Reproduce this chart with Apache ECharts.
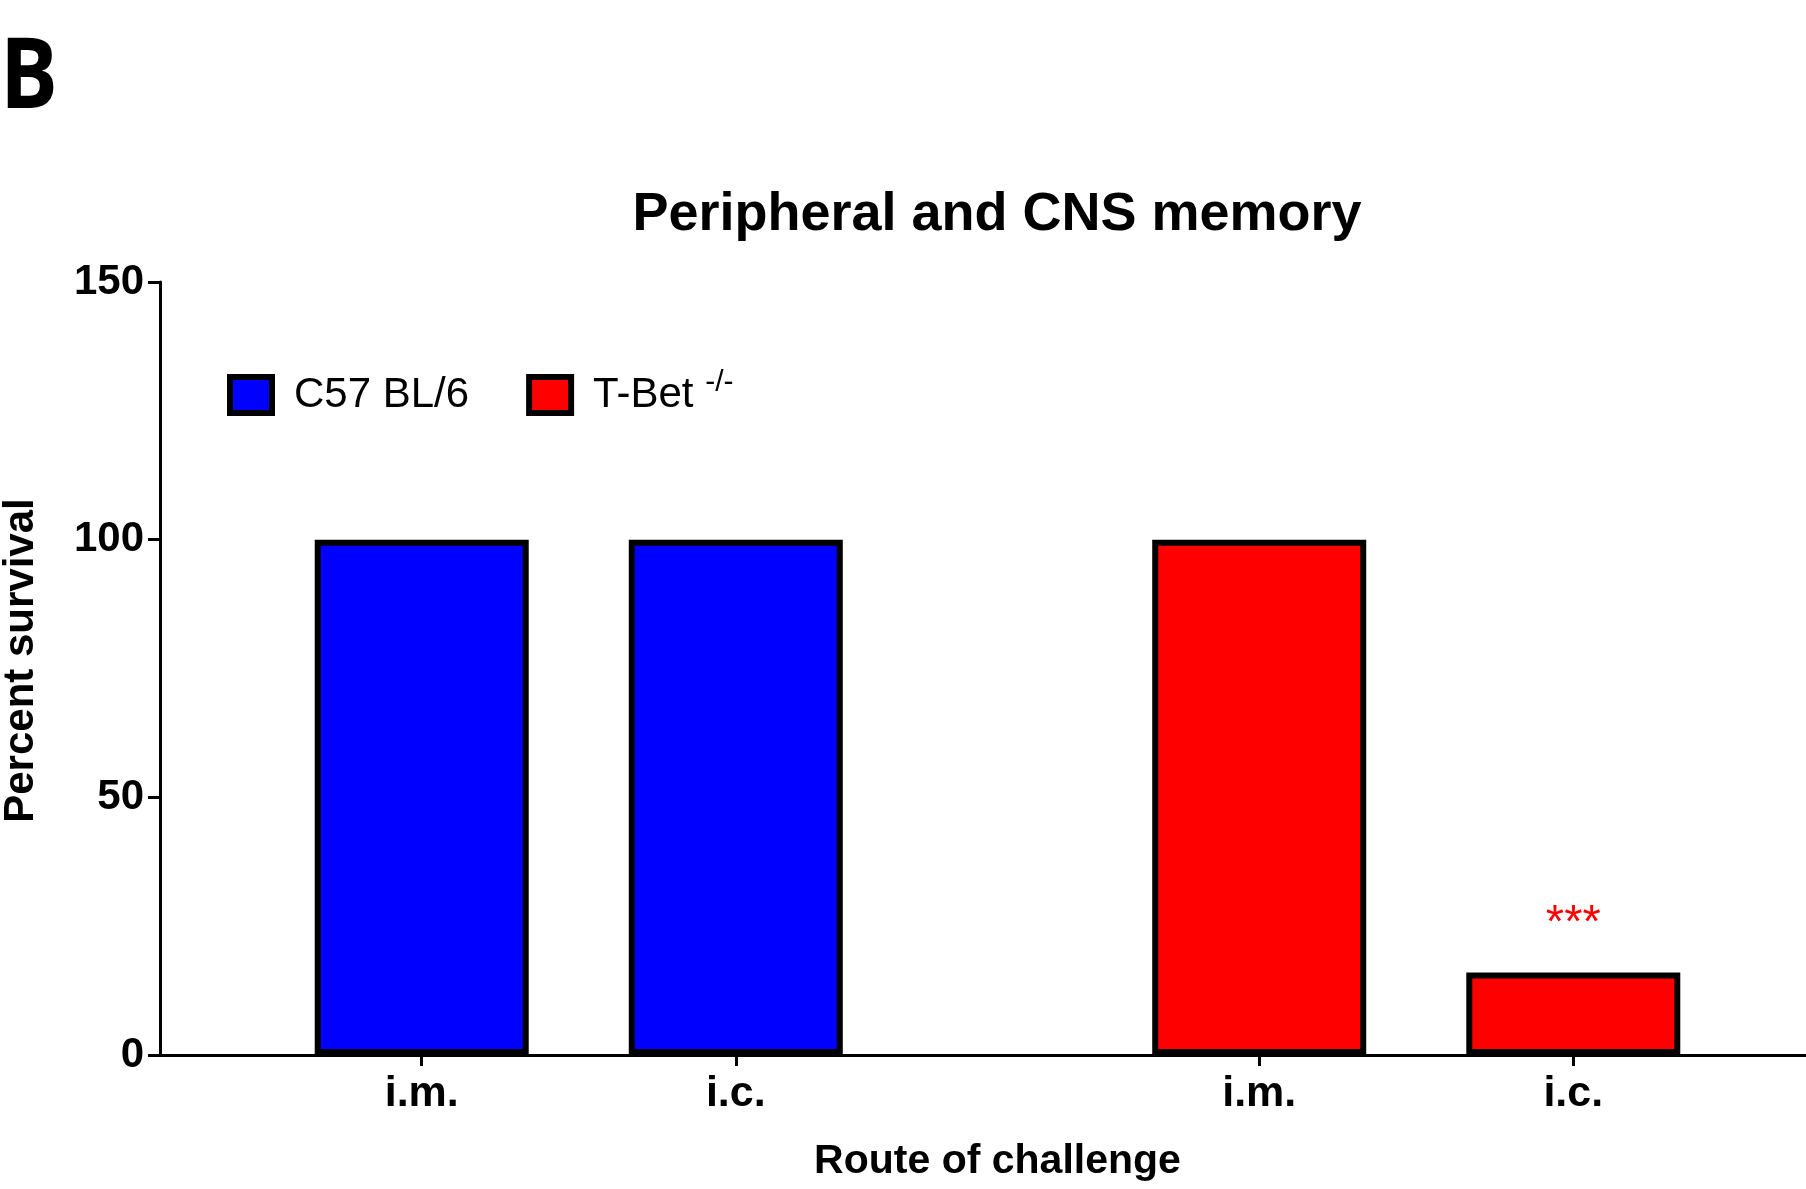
<!DOCTYPE html>
<html>
<head>
<meta charset="utf-8">
<script src="https://cdn.jsdelivr.net/npm/echarts@6/dist/echarts.min.js"></script>
<style>
html,body{margin:0;padding:0;background:#fff;}
#chart{width:1806px;height:1189px;}
</style>
</head>
<body>
<div id="chart"></div>
<script>
// ---- data ----
const routes = ['i.m.', 'i.c.'];
const strains = ['C57 BL/6', 'T-Bet'];
const c57Values = [100, 100];
const tbetValues = [100, 16];
const yTicks = [0, 50, 100, 150];
const significance = ['', '***'];

// ---- layout helpers (slots on a category axis) ----
const slotCount = 16;
const c57Slots = [2, 5];
const tbetSlots = [10, 13];

const categories = new Array(slotCount).fill('');
c57Slots.forEach((s, i) => categories[s] = routes[i]);
tbetSlots.forEach((s, i) => categories[s] = routes[i]);

const c57Data = new Array(slotCount).fill(null);
c57Slots.forEach((s, i) => c57Data[s] = c57Values[i]);
const tbetData = new Array(slotCount).fill(null);
tbetSlots.forEach((s, i) => {
  const item = { value: tbetValues[i] };
  if (significance[i]) {
    item.label = {
      show: true, position: 'top', distance: 25, formatter: significance[i],
      color: '#ff0000', fontSize: 47, fontFamily: 'Liberation Sans'
    };
  }
  tbetData[s] = item;
});

const FONT = 'Liberation Sans';
const chart = echarts.init(document.getElementById('chart'), null, { renderer: 'canvas' });
chart.setOption({
  backgroundColor: '#ffffff',
  animation: false,
  title: {
    text: 'Peripheral and CNS memory',
    left: 997, top: 188,
    textAlign: 'center',
    padding: 0,
    textStyle: { fontFamily: FONT, fontWeight: 'bold', fontSize: 54, color: '#000' }
  },
  graphic: [{
    type: 'text', left: 0, top: 31, scaleX: 0.88,
    style: { text: 'B', fontFamily: 'Open Sans', fontWeight: 'bold', fontSize: 98, fill: '#000' }
  }],
  legend: {
    left: 227, top: 368, padding: 0,
    itemWidth: 42, itemHeight: 36, itemGap: 57,
    icon: 'rect',
    itemStyle: { borderColor: '#000', borderWidth: 6 },
    textStyle: {
      fontFamily: FONT, fontSize: 42, color: '#000', padding: [0, 0, 0, 17],
      rich: {
        main: { fontFamily: FONT, fontSize: 42, color: '#000', lineHeight: 54 },
        sup: { fontFamily: FONT, fontSize: 30, color: '#000', lineHeight: 28, verticalAlign: 'top' }
      }
    },
    formatter: function (name) {
      return name === 'T-Bet' ? '{main|T-Bet }{sup|-/-}' : '{main|' + name + '}';
    },
    data: strains
  },
  grid: { left: 160, top: 282, width: 1675, height: 773, containLabel: false, outerBoundsMode: 'none' },
  xAxis: {
    type: 'category',
    data: categories,
    name: 'Route of challenge',
    nameLocation: 'middle',
    nameGap: 86,
    nameTextStyle: { fontFamily: FONT, fontWeight: 'bold', fontSize: 41, color: '#000' },
    axisLine: { show: true, lineStyle: { color: '#000', width: 3 } },
    axisTick: {
      show: true, alignWithLabel: true, length: 11,
      lineStyle: { color: '#000', width: 3 },
      interval: function (idx, val) { return val !== ''; }
    },
    axisLabel: {
      interval: 0, margin: 18,
      fontFamily: FONT, fontWeight: 'bold', fontSize: 43, color: '#000'
    },
    splitLine: { show: false }
  },
  yAxis: {
    type: 'value',
    min: yTicks[0], max: yTicks[yTicks.length - 1], interval: 50,
    name: 'Percent survival',
    nameLocation: 'middle',
    nameRotate: 90,
    nameGap: 118,
    nameTextStyle: { fontFamily: FONT, fontWeight: 'bold', fontSize: 42, color: '#000', padding: [0, 0, 0, 16] },
    axisLine: { show: true, lineStyle: { color: '#000', width: 3 } },
    axisTick: { show: true, length: 12, lineStyle: { color: '#000', width: 3 } },
    axisLabel: { margin: 16, fontFamily: FONT, fontWeight: 'bold', fontSize: 42, color: '#000' },
    splitLine: { show: false }
  },
  series: [
    {
      name: strains[0], type: 'bar', data: c57Data,
      barWidth: 214, barGap: '-100%',
      itemStyle: { color: '#0000ff', borderColor: '#000', borderWidth: 6 }
    },
    {
      name: strains[1], type: 'bar', data: tbetData,
      barWidth: 214, barGap: '-100%',
      itemStyle: { color: '#ff0000', borderColor: '#000', borderWidth: 6 }
    }
  ]
});
</script>
</body>
</html>
